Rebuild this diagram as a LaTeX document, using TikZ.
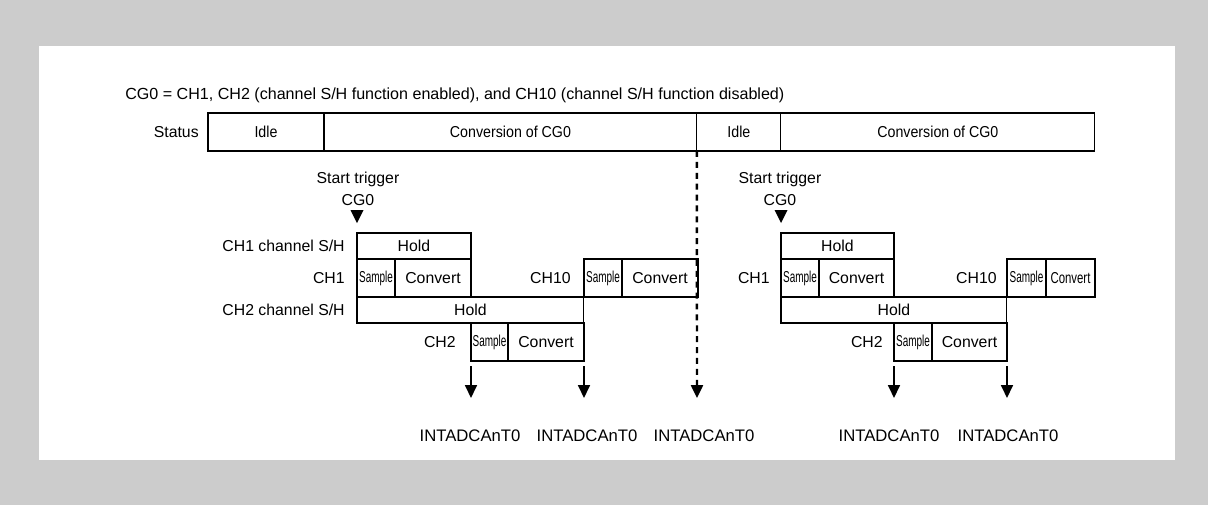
\documentclass[tikz,border=0pt]{standalone}
\usepackage{fontspec}
\setmainfont{Liberation Sans}
\usetikzlibrary{arrows.meta, positioning}

% horizontally squeezed text, as in the narrow cells
\newcommand{\squeeze}[2][0.63]{\scalebox{#1}[1]{#2}}

\begin{document}
\begin{tikzpicture}[
    x=0.02cm, y=-0.02cm,
    >={Triangle[length=0.26cm, width=0.24cm]},
    font=\fontsize{9}{12.5}\selectfont,
    seg/.style ={draw, line width=0.6pt, inner sep=0pt, outer sep=0pt,
                 minimum height=0.76cm},
    hold/.style={seg, anchor=north west, minimum height=0.52cm},
    cell/.style={seg, anchor=north west, minimum height=0.76cm},
    lbl/.style ={inner sep=0pt},
    irqlbl/.style={lbl, font=\fontsize{9.5}{11}\selectfont},
    irq/.style ={->, line width=1pt},
    endline/.style={->, line width=1.4pt, dash pattern=on 3.4pt off 2.8pt}
  ]

  % ---- frame -----------------------------------------------------------
  \fill[black!20] (0,0) rectangle (1208,505);
  \fill[white] (39,46) rectangle (1175,460);

  \node[lbl, anchor=west, font=\fontsize{9.15}{11}\selectfont] (title) at (125,95)
    {CG0 = CH1, CH2 (channel S/H function enabled), and CH10 (channel S/H function disabled)};

  % ---- status bar ------------------------------------------------------
  \node[seg, minimum width=2.32cm] (idleA) at (266,132) {\squeeze[0.9]{Idle}};
  \node[seg, minimum width=7.46cm, right=0pt of idleA] (convA) {\squeeze[0.9]{Conversion of CG0}};
  \node[seg, minimum width=1.68cm, right=0pt of convA] (idleB) {\squeeze[0.9]{Idle}};
  \node[seg, minimum width=6.28cm, right=0pt of idleB] (convB) {\squeeze[0.9]{Conversion of CG0}};
  \node[lbl, left=0.18cm of idleA] (status) {Status};

  % ---- first conversion of CG0 -----------------------------------------
  \node[hold, minimum width=2.28cm] (hold1L)  at (357,233) {Hold};
  \node[cell, minimum width=0.76cm] (samp1L)  at (357,259) {\squeeze{Sample}};
  \node[cell, minimum width=1.52cm] (conv1L)  at (395,259) {Convert};
  \node[hold, minimum width=4.54cm] (hold2L)  at (357,297) {Hold};
  \node[cell, minimum width=0.74cm] (samp2L)  at (471,323) {\squeeze{Sample}};
  \node[cell, minimum width=1.52cm] (conv2L)  at (508,323) {Convert};
  \node[cell, minimum width=0.76cm] (samp10L) at (584,259) {\squeeze{Sample}};
  \node[cell, minimum width=1.52cm] (conv10L) at (622,259) {Convert};

  \node[lbl, left=0.24cm of hold1L]  (sh1L)  {CH1 channel S/H};
  \node[lbl, left=0.24cm of samp1L]  (ch1L)  {CH1};
  \node[lbl, left=0.24cm of hold2L]  (sh2L)  {CH2 channel S/H};
  \node[lbl, left=0.30cm of samp2L]  (ch2L)  {CH2};
  \node[lbl, left=0.26cm of samp10L] (ch10L) {CH10};

  \node[lbl, align=center] (trgL) at (358,189) {Start trigger\\CG0};
  \fill ([yshift=0.2cm]hold1L.north west) -- ++(-6.5,-13) -- ++(13,0) -- cycle;

  % ---- second conversion of CG0 ----------------------------------------
  \node[hold, minimum width=2.26cm] (hold1R)  at (781,233) {Hold};
  \node[cell, minimum width=0.76cm] (samp1R)  at (781,259) {\squeeze{Sample}};
  \node[cell, minimum width=1.50cm] (conv1R)  at (819,259) {Convert};
  \node[hold, minimum width=4.52cm] (hold2R)  at (781,297) {Hold};
  \node[cell, minimum width=0.76cm] (samp2R)  at (894,323) {\squeeze{Sample}};
  \node[cell, minimum width=1.50cm] (conv2R)  at (932,323) {Convert};
  \node[cell, minimum width=0.78cm] (samp10R) at (1007,259) {\squeeze{Sample}};
  \node[cell, minimum width=0.98cm] (conv10R) at (1046,259) {\squeeze[0.72]{Convert}};

  \node[lbl, left=0.22cm of samp1R]  (ch1R)  {CH1};
  \node[lbl, left=0.22cm of samp2R]  (ch2R)  {CH2};
  \node[lbl, left=0.20cm of samp10R] (ch10R) {CH10};

  \node[lbl, align=center] (trgR) at (780,189) {Start trigger\\CG0};
  \fill ([yshift=0.2cm]hold1R.north west) -- ++(-6.5,-13) -- ++(13,0) -- cycle;

  % ---- interrupt requests ----------------------------------------------
  \coordinate (tipA) at (471,398);
  \coordinate (tipB) at (584,398);
  \coordinate (tipC) at (697,398);
  \coordinate (tipD) at (894,398);
  \coordinate (tipE) at (1007,398);

  \draw[irq] ([yshift=-0.1cm]samp2L.south west) -- (tipA);
  \draw[irq] ([yshift=-0.1cm]conv2L.south east) -- (tipB);
  \draw[endline] (convA.south east) -- (tipC);
  \draw[irq] ([yshift=-0.1cm]samp2R.south west) -- (tipD);
  \draw[irq] ([yshift=-0.1cm]conv2R.south east) -- (tipE);

  \node[irqlbl] (intA) at (470,436)  {INTADCAnT0};
  \node[irqlbl] (intB) at (587,436)  {INTADCAnT0};
  \node[irqlbl] (intC) at (704,436)  {INTADCAnT0};
  \node[irqlbl] (intD) at (889,436)  {INTADCAnT0};
  \node[irqlbl] (intE) at (1008,436) {INTADCAnT0};

\end{tikzpicture}
\end{document}
